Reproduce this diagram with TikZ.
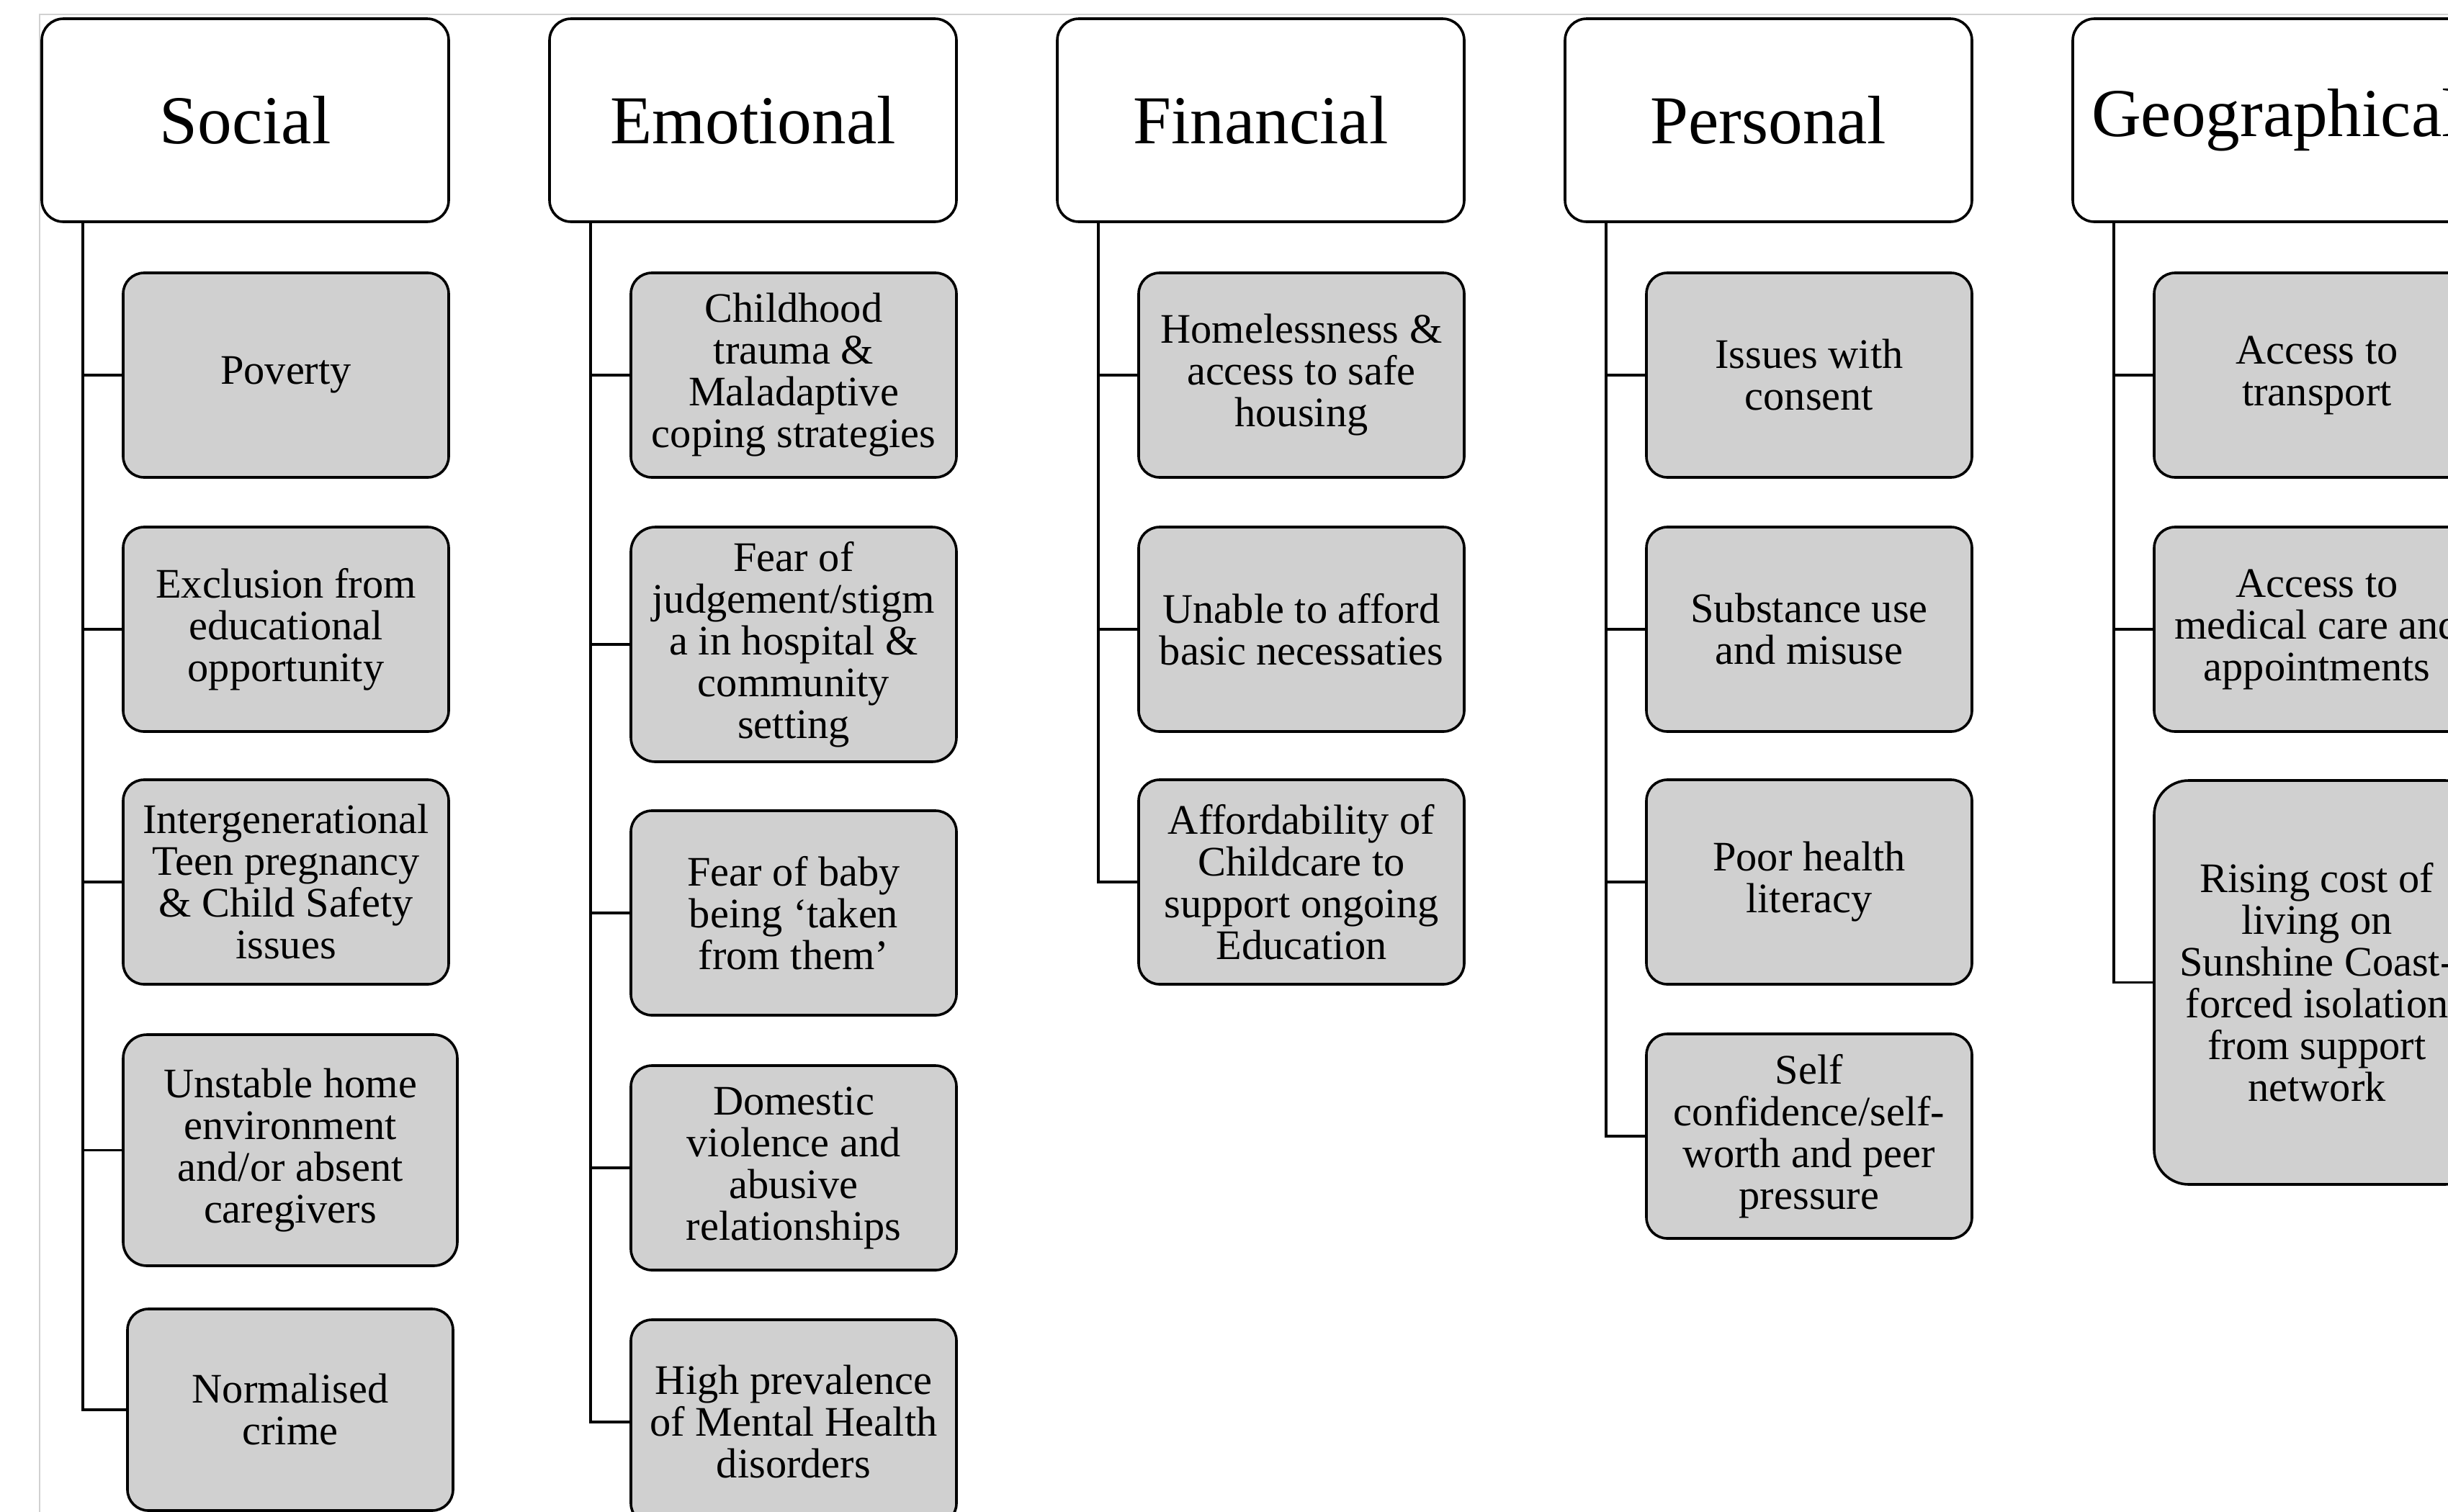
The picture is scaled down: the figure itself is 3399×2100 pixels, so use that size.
\documentclass[tikz,border=0pt]{standalone}
\usepackage{fontspec}
\setmainfont{Liberation Serif}
\definecolor{boxgray}{RGB}{208,208,208}
\begin{document}
\begin{tikzpicture}[x=0.25pt,y=-0.25pt,
  hdr/.style={draw, line width=0.9pt, rounded corners=7.5pt, fill=white,
    minimum width=141.25pt, minimum height=70.5pt, inner sep=0pt,
    font=\fontsize{23.8}{26}\selectfont},
  item/.style={draw, line width=0.9pt, rounded corners=7.25pt, fill=boxgray,
    minimum width=113pt, minimum height=71pt, inner sep=0pt, align=center,
    font=\fontsize{14.6}{14.5}\selectfont},
  link/.style={line width=0.9pt}]
\useasboundingbox (0,0) rectangle (3399,2100);
\clip (0,0) rectangle (3399,2100);
\fill[white] (0,0) rectangle (3399,2100);
\draw[black!18, line width=0.3pt] (55,2100) -- (55,20) -- (3399,20);

% Social
\node[hdr] (S) at (340.5,167) {Social};
\node[item] (S1) at (397,521) {Poverty};
\node[item] (S2) at (397,874) {Exclusion from\\educational\\opportunity};
\node[item] (S3) at (397,1225) {Intergenerational\\Teen pregnancy\\\& Child Safety\\issues};
\node[item, minimum width=116pt, minimum height=80.25pt, rounded corners=8.25pt] (S4) at (403,1597.5) {Unstable home\\environment\\and/or absent\\caregivers};
\node[item, minimum height=70pt] (S5) at (403,1958) {Normalised\\crime};
\foreach \c in {S1,S2,S3,S4,S5}
  \draw[link] ([xshift=14.75pt]S.south west) |- (\c.west);

% Emotional
\node[hdr] (E) at (1045.5,167) {Emotional};
\node[item] (E1) at (1102,521) {Childhood\\trauma \&\\Maladaptive\\coping strategies};
\node[item, minimum height=81.5pt, rounded corners=8.5pt] (E2) at (1102,895) {Fear of\\judgement/stigm\\a in hospital \&\\community\\setting};
\node[item] (E3) at (1102,1268) {Fear of baby\\being ‘taken\\from them’};
\node[item] (E4) at (1102,1622) {Domestic\\violence and\\abusive\\relationships};
\node[item] (E5) at (1102,1975) {High prevalence\\of Mental Health\\disorders};
\foreach \c in {E1,E2,E3,E4,E5}
  \draw[link] ([xshift=14.75pt]E.south west) |- (\c.west);

% Financial
\node[hdr] (F) at (1750.5,167) {Financial};
\node[item] (F1) at (1807,521) {Homelessness \&\\access to safe\\housing};
\node[item] (F2) at (1807,874) {Unable to afford\\basic necessaties};
\node[item] (F3) at (1807,1225) {Affordability of\\Childcare to\\support ongoing\\Education};
\foreach \c in {F1,F2,F3}
  \draw[link] ([xshift=14.75pt]F.south west) |- (\c.west);

% Personal
\node[hdr] (P) at (2455.5,167) {Personal};
\node[item] (P1) at (2512,521) {Issues with\\consent};
\node[item] (P2) at (2512,874) {Substance use\\and misuse};
\node[item] (P3) at (2512,1225) {Poor health\\literacy};
\node[item] (P4) at (2512,1578) {Self\\confidence/self-\\worth and peer\\pressure};
\foreach \c in {P1,P2,P3,P4}
  \draw[link] ([xshift=14.75pt]P.south west) |- (\c.west);

% Geographical
\node[hdr] (G) at (3160.5,167) {Geographical};
\node[item] (G1) at (3217,521) {Access to\\transport};
\node[item] (G2) at (3217,874) {Access to\\medical care and\\appointments};
\node[item, minimum height=140.25pt, rounded corners=12pt] (G3) at (3217,1364.5) {Rising cost of\\living on\\Sunshine Coast-\\forced isolation\\from support\\network};
\foreach \c in {G1,G2,G3}
  \draw[link] ([xshift=14.75pt]G.south west) |- (\c.west);
\end{tikzpicture}
\end{document}
